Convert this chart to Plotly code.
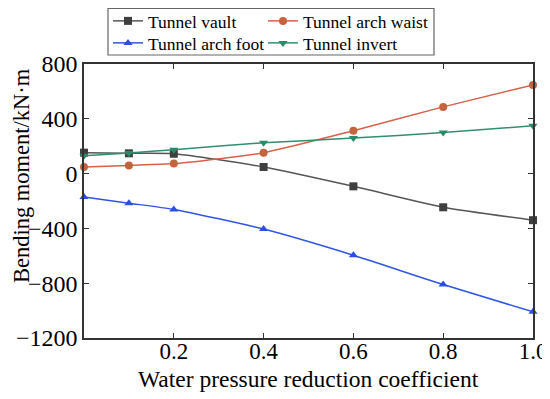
import plotly.graph_objects as go

x_vals = [0.0, 0.1, 0.2, 0.4, 0.6, 0.8, 1.0]
vault = [153, 148, 145, 48, -93, -246, -340]
arch_waist = [48, 60, 73, 153, 313, 487, 647]
arch_foot = [-170, -216, -262, -405, -596, -810, -1009]
invert = [131, 150, 175, 225, 259, 300, 349]

x_ticks = [0.2, 0.4, 0.6, 0.8, 1.0]
x_tick_text = ["0.2", "0.4", "0.6", "0.8", "1.0"]
y_ticks = [-1200, -800, -400, 0, 400, 800]

FONT = "Liberation Serif, Times New Roman, serif"

fig = go.Figure()
series = [
    ("Tunnel vault", vault, "#555555", "#3f3f3f", "square", "legend"),
    ("Tunnel arch waist", arch_waist, "#d9604a", "#c4643e", "circle", "legend2"),
    ("Tunnel arch foot", arch_foot, "#2f55e6", "#2b50e0", "triangle-up", "legend3"),
    ("Tunnel invert", invert, "#2f8f6e", "#2a8a68", "triangle-down", "legend4"),
]
for name, ys, lc, mc, sym, lg in series:
    fig.add_trace(go.Scatter(
        x=x_vals, y=ys, name=name, mode="lines+markers", legend=lg,
        line=dict(color=lc, width=1.5, shape="spline", smoothing=0.6),
        marker=dict(color=mc, symbol=sym, size=8),
        cliponaxis=False,
    ))

PW = 449.0  # plot width in px
PH = 274.0  # plot height in px
leg_common = dict(
    orientation="h", xanchor="left", yanchor="middle",
    borderwidth=0, bgcolor="rgba(0,0,0,0)",
    font=dict(family=FONT, size=17.5), itemwidth=30,
)
col1 = (100 - 76) / PW
col2 = (255 - 76) / PW
row1 = (330 - 13) / PH
row2 = (330 - 35) / PH
# page body has an 8px default margin, so the figure sits 8px right/down in the window
fig.update_layout(
    width=542, height=391,
    margin=dict(l=76, r=17, t=56, b=61, autoexpand=False),
    paper_bgcolor="white", plot_bgcolor="white",
    font=dict(family=FONT, color="black"),
    legend=dict(x=col1, y=row1, **leg_common),
    legend2=dict(x=col2, y=row1, **leg_common),
    legend3=dict(x=col1, y=row2, **leg_common),
    legend4=dict(x=col2, y=row2, **leg_common),
    showlegend=True,
)
fig.add_shape(
    type="rect", xref="paper", yref="paper",
    x0=(100 - 76) / PW, x1=(426 - 76) / PW,
    y0=(330 - 47) / PH, y1=(330 - 0.5) / PH,
    line=dict(color="#666666", width=1.2), fillcolor="white", layer="above",
)
fig.update_xaxes(
    range=[0, 1.0], tickvals=x_ticks, ticktext=x_tick_text, automargin=False,
    showline=True, linecolor="#333333", linewidth=1.5, mirror="ticks",
    ticks="inside", ticklen=5, tickcolor="#333333", showgrid=False, zeroline=False,
    tickfont=dict(family=FONT, size=23), ticklabeloverflow="allow", ticklabelstandoff=-8,
)
fig.update_yaxes(
    range=[-1200, 800], tickvals=y_ticks, automargin=False,
    showline=True, linecolor="#333333", linewidth=1.5, mirror="ticks",
    ticks="inside", ticklen=5, tickcolor="#333333", showgrid=False, zeroline=False,
    tickfont=dict(family=FONT, size=24), ticklabeloverflow="allow",
)
fig.add_annotation(
    text="Bending moment/kN·m", textangle=-90, showarrow=False,
    xref="paper", yref="paper", x=(13 - 76) / PW, y=(330 - 168) / PH,
    xanchor="center", yanchor="middle",
    font=dict(family=FONT, size=22.5),
)
fig.add_annotation(
    text="Water pressure reduction coefficient", showarrow=False,
    xref="paper", yref="paper", x=0.5, y=(330 - 371) / PH,
    xanchor="center", yanchor="middle",
    font=dict(family=FONT, size=23.5),
)

fig.write_html("out.html")
